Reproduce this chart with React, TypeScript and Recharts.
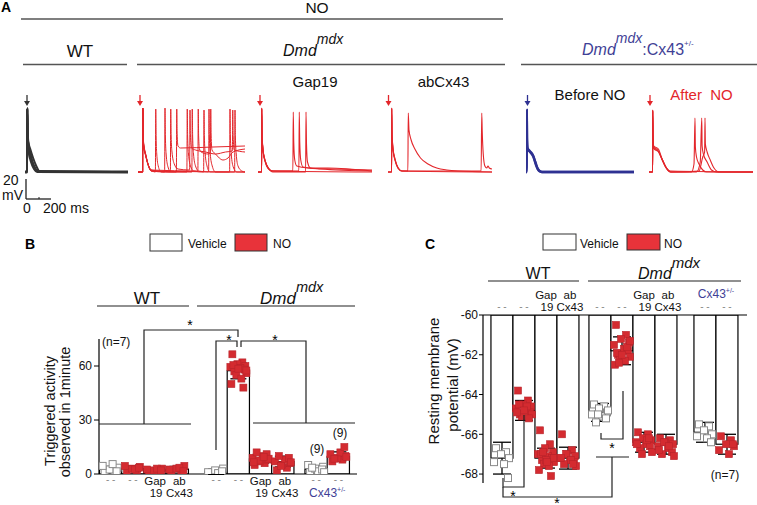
import React from 'react';
import { ComposedChart, LineChart, Line, Bar, Scatter, XAxis, YAxis, ErrorBar } from 'recharts';

const FONT = '"Liberation Sans", Arial, Helvetica, sans-serif';
const RED = '#e3262b';
const SQ_RED = '#d42b30';
const BLUE = '#2e3192';
const BLUE_TXT = '#3f3f96';
const GRAY = '#555';

// ---------------- Panel A: membrane potential traces (t in ms, v in mV) ----------------
type P = [number, number];
const WT_TRACES: P[][] = [
  [[0, -70], [17, -70], [18, -6], [21, -30], [26, -42], [40, -50], [60, -60], [85, -67], [110, -70], [824, -70]],
  [[0, -70], [17, -70], [18, -6], [21, -32], [28, -44], [45, -54], [70, -64], [95, -69], [824, -70]],
  [[0, -69.5], [17, -69.5], [18, -7], [21, -34], [30, -47], [50, -58], [75, -66], [100, -69.5], [824, -69.5]],
  [[0, -70], [17, -70], [18, -7], [21, -28], [27, -40], [42, -47], [65, -56], [90, -64], [115, -69], [824, -70]],
  [[0, -70.5], [17, -70.5], [18, -8], [21, -36], [29, -49], [48, -60], [72, -67], [98, -70], [824, -70.5]],
];
const MDX_TRACES: P[][] = [
  [[0, -70], [37, -70], [38, -6], [41, -32], [46, -44], [60, -52], [80, -62], [105, -68], [139, -70], [142, -7], [145, -35], [150, -52], [162, -64], [185, -70], [307, -70], [310, -7], [313, -32], [320, -44], [340, -46], [600, -45], [856, -44]],
  [[0, -70], [37, -70], [38, -7], [41, -34], [47, -46], [62, -54], [82, -63], [108, -69], [213, -70], [216, -6], [219, -34], [225, -52], [240, -65], [262, -70], [391, -70], [394, -7], [397, -34], [404, -52], [420, -64], [445, -69], [525, -70], [528, -8], [531, -35], [538, -52], [552, -64], [575, -70], [733, -70], [736, -7], [739, -34], [746, -52], [762, -65], [790, -70], [856, -70]],
  [[0, -70], [37, -70], [38, -6], [41, -30], [46, -42], [58, -50], [78, -61], [104, -68], [259, -70], [262, -7], [265, -34], [272, -50], [290, -62], [320, -67], [413, -68], [416, -8], [419, -32], [428, -46], [460, -48], [540, -50], [620, -52], [700, -50], [755, -49], [758, -8], [761, -34], [770, -48], [856, -50]],
  [[0, -70], [37, -70], [38, -6], [41, -33], [47, -45], [61, -53], [82, -63], [106, -69], [431, -70], [434, -7], [437, -34], [444, -52], [460, -64], [485, -69], [565, -70], [568, -7], [571, -34], [578, -52], [594, -64], [620, -70], [773, -70], [776, -8], [779, -35], [786, -52], [800, -64], [830, -69], [856, -70]],
  [[0, -70], [37, -70], [38, -7], [41, -31], [46, -43], [59, -51], [79, -62], [104, -68], [479, -69], [482, -7], [485, -34], [492, -47], [505, -50], [560, -52], [579, -51], [582, -7], [585, -33], [592, -48], [620, -52], [680, -58], [720, -56], [760, -50], [856, -47]],
  [[0, -70], [37, -70], [38, -6], [41, -33], [46, -45], [60, -53], [80, -63], [106, -69], [856, -70]],
];
const GAP19_TRACES: P[][] = [
  [[0, -70], [29, -70], [30, -6], [33, -35], [40, -48], [55, -58], [80, -66], [110, -69], [912, -70]],
  [[0, -70], [29, -70], [30, -7], [33, -36], [41, -50], [58, -60], [85, -67], [120, -69], [279, -69], [282, -10], [286, -40], [294, -58], [310, -64], [400, -66], [600, -67], [912, -68]],
  [[0, -70], [29, -70], [30, -6], [33, -34], [40, -47], [56, -58], [82, -66], [115, -69], [327, -69], [330, -10], [334, -40], [342, -58], [360, -65], [500, -67], [912, -69]],
  [[0, -70], [29, -70], [30, -7], [33, -36], [42, -50], [60, -60], [88, -67], [118, -70], [381, -70], [384, -10], [388, -42], [396, -60], [420, -66], [560, -66], [912, -69]],
];
const ABCX43_TRACES: P[][] = [
  [[0, -70], [29, -70], [30, -6], [33, -34], [40, -47], [55, -57], [80, -66], [110, -69], [832, -70]],
  [[0, -70], [29, -70], [30, -7], [33, -36], [41, -49], [58, -59], [85, -67], [112, -69], [159, -69], [162, -11], [168, -28], [185, -38], [215, -47], [260, -56], [320, -62], [390, -66], [470, -68], [560, -69], [832, -70]],
  [[0, -70], [29, -70], [30, -6], [33, -33], [40, -46], [56, -57], [82, -66], [112, -69], [745, -69], [750, -11], [754, -30], [762, -52], [775, -64], [790, -66], [800, -64], [810, -66], [832, -67]],
];
const BEFORE_NO_TRACES: P[][] = [
  [[0, -70], [5, -70], [6, -8], [8, -36], [12, -46], [30, -49], [55, -53], [75, -60], [95, -67], [125, -70], [864, -70]],
  [[0, -70], [5, -70], [6, -9], [8, -38], [13, -47], [32, -50], [60, -55], [80, -63], [105, -69], [130, -70], [864, -70]],
];
const AFTER_NO_TRACES: P[][] = [
  [[0, -70], [29, -70], [30, -8], [33, -38], [38, -45], [70, -48], [100, -56], [130, -64], [170, -69], [832, -70]],
  [[0, -70], [29, -70], [30, -9], [33, -36], [38, -44], [75, -47], [105, -57], [135, -65], [175, -70], [340, -70], [360, -62], [368, -16], [371, -45], [380, -55], [400, -62], [430, -68], [460, -70], [832, -70]],
  [[0, -70], [29, -70], [30, -8], [33, -37], [38, -46], [72, -49], [102, -57], [132, -65], [172, -70], [380, -70], [410, -60], [422, -16], [425, -44], [435, -52], [465, -60], [500, -68], [540, -70], [832, -70]],
  [[0, -70], [29, -70], [30, -9], [33, -38], [40, -47], [78, -50], [108, -58], [138, -66], [178, -70], [400, -69], [430, -55], [445, -50], [448, -16], [451, -42], [465, -50], [490, -58], [520, -66], [560, -70], [832, -70]],
];

// ---------------- Panels B & C data ----------------
const GROUP_SIZES = [4, 4, 2];
const TREATMENT = ['Vehicle', 'NO', 'NO', 'NO', 'Vehicle', 'NO', 'NO', 'NO', 'Vehicle', 'NO'];
const X_LABEL_TOP = ['--', '--', 'Gap', 'ab', '--', '--', 'Gap', 'ab', '--', '--'];
const X_LABEL_BOTTOM = ['', '', '19', 'Cx43', '', '', '19', 'Cx43', '', ''];

const B_MEANS = [2.7, 3.0, 2.2, 2.7, 1.3, 57.4, 8.4, 6.9, 2.7, 9.8];
const B_ERR = [1.5, 1.5, 1.0, 1.5, 1.5, 4.5, 2.5, 3.0, 1.5, 2.5];
const B_POINTS: number[][] = [
  [1.0, 1.5, 2.5, 3.5, 4.5, 5.5, 1.5],
  [1.5, 2.0, 3.0, 4.0, 4.5, 2.5, 3.5],
  [1.0, 1.5, 2.0, 3.0, 2.5, 3.0, 2.0],
  [1.5, 2.0, 3.0, 4.5, 2.5, 3.5, 1.5],
  [0.5, 1.0, 2.0, 3.0, 1.0, 0.5, 1.5],
  [66.5, 62, 61, 60, 59.5, 59, 58, 57, 56, 55, 53, 50, 48, 60.5, 58.5, 57.5],
  [5, 6, 7, 8, 9, 10, 11, 12, 8.5, 7.5, 9.5, 6.5],
  [2, 3.5, 5, 6, 7, 8, 9, 10, 6.5, 4.5],
  [1, 2, 3, 4, 5, 1.5, 2.5, 3.5, 1],
  [7, 8, 9, 10, 11, 12, 15, 8.5, 9.5],
];
const B_TICKS = [0, 30, 60];

const C_MEANS = [-67.2, -64.8, -67.2, -67.2, -64.9, -61.8, -66.4, -66.5, -65.9, -66.5];
const C_ERR = [0.8, 0.5, 0.5, 0.55, 0.45, 0.7, 0.5, 0.5, 0.5, 0.5];
const C_POINTS: number[][] = [
  [-66.7, -66.9, -67.0, -67.2, -67.4, -67.5, -68.2],
  [-63.8, -64.3, -64.5, -64.6, -64.7, -64.8, -64.9, -65.0, -65.0, -65.1, -64.6, -64.9, -65.2, -64.5, -64.8],
  [-65.8, -66.5, -66.7, -66.9, -67.0, -67.1, -67.2, -67.3, -67.4, -67.5, -67.6, -67.8, -68.1, -67.0, -67.3, -67.2, -66.9, -67.4],
  [-66.0, -66.8, -67.0, -67.1, -67.2, -67.3, -67.4, -67.5, -67.6, -67.0, -67.3, -67.2, -67.5],
  [-64.5, -64.6, -64.7, -64.9, -65.0, -65.1, -65.2, -65.4, -64.8, -65.0],
  [-60.5, -61.0, -61.2, -61.4, -61.5, -61.7, -61.8, -62.0, -62.1, -62.2, -62.3, -62.5, -61.6, -61.9, -62.0, -61.3, -62.4],
  [-65.9, -66.0, -66.2, -66.3, -66.4, -66.5, -66.6, -66.7, -66.9, -67.0, -66.3, -66.5, -66.2],
  [-66.2, -66.3, -66.4, -66.5, -66.6, -66.7, -66.9, -67.0, -67.1, -66.4, -66.6, -66.8],
  [-65.5, -65.6, -65.8, -66.0, -66.1, -66.2, -66.4],
  [-66.1, -66.3, -66.5, -66.6, -66.8, -67.0, -66.5],
];
const C_TICKS = [-60, -61, -62, -63, -64, -65, -66, -67, -68];

// ---------------- layout helpers (positions, not data) ----------------
const JITTER = [-6, 4, -1, 7, -8, 2, 6, -4, 8, -2, 3, -7, 5, -5, 0, 8, -3, 1, -8, 4];

function barCenters(starts: number[], w: number): number[] {
  const out: number[] = [];
  starts.forEach((s, g) => {
    for (let i = 0; i < GROUP_SIZES[g]; i++) out.push(s + w * (i + 0.5));
  });
  return out;
}

function buildSeries(centers: number[], means: number[], errs: number[], points: number[][]) {
  const bars = centers.map((x, i) => ({ x, mean: means[i], err: errs[i] }));
  const veh: { x: number; y: number }[] = [];
  const no: { x: number; y: number }[] = [];
  points.forEach((arr, i) => {
    arr.forEach((y, j) => {
      const pt = { x: centers[i] + JITTER[j % JITTER.length], y };
      if (TREATMENT[i] === 'Vehicle') veh.push(pt);
      else no.push(pt);
    });
  });
  return { bars, veh, no };
}

const VehSquare = (p: any) => (
  <rect x={p.cx - 3.5} y={p.cy - 3.5} width={7} height={7} fill="#fff" stroke="#8a8a8a" strokeWidth={1} />
);
const NoSquare = (p: any) => (
  <rect x={p.cx - 3.5} y={p.cy - 3.5} width={7} height={7} fill={SQ_RED} stroke="#b8232a" strokeWidth={0.6} />
);
const Nothing = () => <g />;

function makeBarShape(w: number) {
  return (p: any) => {
    const cx = p.x + (p.width || 0) / 2;
    const y = Math.min(p.y, p.y + p.height);
    const h = Math.abs(p.height);
    return <rect x={cx - w / 2} y={y} width={w} height={h} fill="#fff" stroke="#000" strokeWidth={1.2} />;
  };
}

function Cx43Label({ x, y }: { x: number; y: number }) {
  return (
    <text x={x} y={y} textAnchor="middle" fontSize={12} fill={BLUE_TXT} fontFamily={FONT}>
      Cx43<tspan dy={-5} fontSize={7}>+/-</tspan>
    </text>
  );
}

function makeTick(bottom: boolean, barW: number) {
  return (props: any) => {
    const { x, y, index } = props;
    const top = X_LABEL_TOP[index];
    const bot = X_LABEL_BOTTOM[index];
    const shift = top === 'ab' ? 2 : 0;
    const y1 = bottom ? y + 11 : y - 16;
    const y2 = bottom ? y + 23 : y - 4;
    const dashY = bottom ? y + 9 : y - 5;
    return (
      <g fontFamily={FONT}>
        {top === '--' ? (
          <text x={x} y={dashY} textAnchor="middle" fontSize={10} fill="#888">- -</text>
        ) : (
          <text x={x + shift} y={y1} textAnchor="middle" fontSize={11.5} fill="#111">{top}</text>
        )}
        {bot ? (
          <text x={x + shift + (bot === '19' ? 1 : 0)} y={y2} textAnchor="middle" fontSize={11.5} fill="#111">{bot}</text>
        ) : null}
        {index === 8 ? (
          bottom ? <Cx43Label x={x + barW / 2} y={y + 23} /> : <Cx43Label x={x + barW / 2} y={y - 17} />
        ) : null}
      </g>
    );
  };
}

// B layout
const B_BAR_W = 22.25;
const B_CENTERS = barCenters([0.5, 106, 206], B_BAR_W);
const B_SERIES = buildSeries(B_CENTERS, B_MEANS, B_ERR, B_POINTS);
// C layout
const C_BAR_W = 22;
const C_CENTERS = barCenters([8, 106, 211], C_BAR_W);
const C_SERIES = buildSeries(C_CENTERS, C_MEANS, C_ERR, C_POINTS);

function TraceChart({ left, width, color, traces, sw }: { left: number; width: number; color: string; traces: P[][]; sw: number }) {
  return (
    <div style={{ position: 'absolute', left, top: 100, width, height: 80 }}>
      <LineChart width={width} height={80} margin={{ top: 0, right: 0, bottom: 0, left: 0 }}>
        <XAxis type="number" dataKey="t" domain={[0, width * 8]} hide allowDataOverflow />
        <YAxis type="number" domain={[-78, 2]} hide allowDataOverflow />
        {traces.map((tr, i) => (
          <Line
            key={i}
            data={tr.map(([t, v]) => ({ t, v }))}
            dataKey="v"
            type="monotoneX"
            stroke={color}
            strokeWidth={sw}
            dot={false}
            isAnimationActive={false}
          />
        ))}
      </LineChart>
    </div>
  );
}

function Arrow({ x, color }: { x: number; color: string }) {
  return (
    <g>
      <line x1={x} y1={95} x2={x} y2={102} stroke={color} strokeWidth={1.3} />
      <path d={`M${x - 3} ${101} L${x + 3} ${101} L${x} ${106} Z`} fill={color} />
    </g>
  );
}

export default function App() {
  const axisStyle = { fontFamily: FONT, fontSize: 12, fill: '#111' };
  return (
    <div style={{ position: 'absolute', left: 0, top: 0, width: 757, height: 505, background: '#fff', overflow: 'hidden', fontFamily: FONT }}>
      {/* Panel A traces */}
      <TraceChart left={25} width={103} color="#333" traces={WT_TRACES} sw={2} />
      <TraceChart left={138} width={107} color={RED} traces={MDX_TRACES} sw={1} />
      <TraceChart left={258} width={114} color={RED} traces={GAP19_TRACES} sw={1.1} />
      <TraceChart left={388} width={104} color={RED} traces={ABCX43_TRACES} sw={1.1} />
      <TraceChart left={526} width={108} color={BLUE} traces={BEFORE_NO_TRACES} sw={2.4} />
      <TraceChart left={649} width={104} color={RED} traces={AFTER_NO_TRACES} sw={1.1} />

      {/* Panel B */}
      <div style={{ position: 'absolute', left: 0, top: 330, width: 370, height: 175 }}>
        <ComposedChart width={370} height={175} data={B_SERIES.bars} margin={{ top: 9, right: 13, bottom: 1, left: 64 }}>
          <XAxis
            type="number"
            dataKey="x"
            domain={[0, 258]}
            ticks={B_CENTERS}
            interval={0}
            height={30}
            tickSize={0}
            tickMargin={0}
            tickLine={false}
            axisLine={{ stroke: '#000', strokeWidth: 1.2 }}
            tick={makeTick(true, B_BAR_W)}
            allowDataOverflow
          />
          <YAxis
            type="number"
            domain={[0, 75]}
            ticks={B_TICKS}
            width={35}
            tickSize={5}
            tickMargin={2}
            axisLine={{ stroke: '#000', strokeWidth: 1.2 }}
            tickLine={{ stroke: '#000' }}
            tick={axisStyle}
            allowDataOverflow
          />
          <Bar dataKey="mean" barSize={22} shape={makeBarShape(B_BAR_W)} isAnimationActive={false} />
          <Scatter data={B_SERIES.veh} dataKey="y" shape={VehSquare} isAnimationActive={false} />
          <Scatter data={B_SERIES.no} dataKey="y" shape={NoSquare} isAnimationActive={false} />
          <Scatter data={B_SERIES.bars.map((b) => ({ x: b.x, y: b.mean, err: b.err }))} dataKey="y" shape={Nothing} isAnimationActive={false}>
            <ErrorBar dataKey="err" direction="y" width={8} stroke="#000" strokeWidth={1.3} />
          </Scatter>
        </ComposedChart>
      </div>

      {/* Panel C */}
      <div style={{ position: 'absolute', left: 380, top: 280, width: 377, height: 225 }}>
        <ComposedChart width={377} height={225} data={C_SERIES.bars} margin={{ top: 5, right: 10, bottom: 22, left: 63 }}>
          <XAxis
            type="number"
            dataKey="x"
            orientation="top"
            domain={[0, 264]}
            ticks={C_CENTERS}
            interval={0}
            height={30}
            tickSize={0}
            tickMargin={0}
            tickLine={false}
            axisLine={{ stroke: '#000', strokeWidth: 1.2 }}
            tick={makeTick(false, C_BAR_W)}
            allowDataOverflow
          />
          <YAxis
            type="number"
            domain={[-68.45, -60]}
            ticks={C_TICKS}
            width={40}
            tickSize={4}
            tickMargin={1}
            axisLine={{ stroke: '#000', strokeWidth: 1.2 }}
            tickLine={{ stroke: '#000' }}
            tick={axisStyle}
            allowDataOverflow
          />
          <Bar dataKey="mean" barSize={22} shape={makeBarShape(C_BAR_W)} isAnimationActive={false} />
          <Scatter data={C_SERIES.veh} dataKey="y" shape={VehSquare} isAnimationActive={false} />
          <Scatter data={C_SERIES.no} dataKey="y" shape={NoSquare} isAnimationActive={false} />
          <Scatter data={C_SERIES.bars.map((b) => ({ x: b.x, y: b.mean, err: b.err }))} dataKey="y" shape={Nothing} isAnimationActive={false}>
            <ErrorBar dataKey="err" direction="y" width={9} stroke="#000" strokeWidth={1.3} />
          </Scatter>
        </ComposedChart>
      </div>

      {/* Annotations */}
      <svg width={757} height={505} style={{ position: 'absolute', left: 0, top: 0, pointerEvents: 'none' }} fontFamily={FONT}>
        {/* Panel A headers */}
        <text x={1} y={12} fontSize={14} fontWeight="bold">A</text>
        <text x={317} y={12.5} fontSize={15.5} textAnchor="middle" fill="#111">NO</text>
        <line x1={21} y1={19} x2={503} y2={19} stroke={GRAY} strokeWidth={1.3} />
        <text x={80} y={57} fontSize={17} textAnchor="middle" fill="#111">WT</text>
        <line x1={23} y1={64.5} x2={127} y2={64.5} stroke={GRAY} strokeWidth={1.3} />
        <text x={283} y={56} fontSize={16} fontStyle="italic" fill="#111">Dmd<tspan dy={-12} fontSize={14}>mdx</tspan></text>
        <line x1={137} y1={64.5} x2={505} y2={64.5} stroke={GRAY} strokeWidth={1.3} />
        <text x={582} y={55} fontSize={16} fill={BLUE_TXT}>
          <tspan fontStyle="italic">Dmd</tspan>
          <tspan dy={-12} fontSize={14} fontStyle="italic">mdx</tspan>
          <tspan dy={12}>:Cx43</tspan>
          <tspan dy={-9} fontSize={8}>+/-</tspan>
        </text>
        <line x1={521} y1={64.5} x2={757} y2={64.5} stroke={GRAY} strokeWidth={1.3} />
        <text x={315} y={87} fontSize={15} textAnchor="middle" fill="#111">Gap19</text>
        <text x={443.5} y={87} fontSize={15} textAnchor="middle" fill="#111">abCx43</text>
        <text x={590} y={100} fontSize={15} textAnchor="middle" fill="#111">Before NO</text>
        <text x={701.5} y={100} fontSize={15} textAnchor="middle" fill={RED} style={{ whiteSpace: 'pre' }}>After  NO</text>
        <Arrow x={27} color="#333" />
        <Arrow x={140} color={RED} />
        <Arrow x={260} color={RED} />
        <Arrow x={388.5} color={RED} />
        <Arrow x={527.5} color={BLUE} />
        <Arrow x={650} color={RED} />
        {/* scale bar */}
        <line x1={26} y1={179} x2={26} y2={199} stroke="#222" strokeWidth={1.3} />
        <line x1={26} y1={199} x2={51} y2={199} stroke="#222" strokeWidth={1.3} />
        <line x1={39} y1={197} x2={39} y2={199} stroke="#222" strokeWidth={1} />
        <text x={3} y={185} fontSize={14} fill="#111">20</text>
        <text x={2} y={200} fontSize={14} fill="#111">mV</text>
        <text x={27} y={213} fontSize={14} textAnchor="middle" fill="#111">0</text>
        <text x={43} y={213} fontSize={14} fill="#111">200 ms</text>

        {/* Panel B headers */}
        <text x={25} y={249} fontSize={14} fontWeight="bold">B</text>
        <rect x={150} y={234} width={32} height={17} fill="#fff" stroke="#333" strokeWidth={1} />
        <text x={188} y={248} fontSize={12} fill="#111">Vehicle</text>
        <rect x={235} y={234} width={32} height={17} fill="#e8333a" stroke="#333" strokeWidth={1} />
        <text x={273} y={248} fontSize={12} fill="#111">NO</text>
        <text x={147} y={304} fontSize={17} textAnchor="middle" fill="#111">WT</text>
        <line x1={97} y1={306} x2={189} y2={306} stroke="#222" strokeWidth={1.2} />
        <text x={260} y={304} fontSize={17} fontStyle="italic" fill="#111">Dmd<tspan dy={-12} fontSize={14.5}>mdx</tspan></text>
        <line x1={197} y1={306} x2={355} y2={306} stroke="#222" strokeWidth={1.2} />
        <text x={102} y={346} fontSize={12} fill="#111">(n=7)</text>
        <text x={317} y={453} fontSize={12} textAnchor="middle" fill="#111">(9)</text>
        <text x={340} y={437} fontSize={12} textAnchor="middle" fill="#111">(9)</text>
        <text transform="rotate(-90 50 411)" x={50} y={411} fontSize={14.5} textAnchor="middle" dominantBaseline="central" fill="#111">Triggered activity</text>
        <text transform="rotate(-90 65 412)" x={65} y={412} fontSize={14.5} textAnchor="middle" dominantBaseline="central" fill="#111">observed in 1minute</text>
        {/* B brackets */}
        <path d="M99 424 H191 M144 424 V330 H238 V337" fill="none" stroke="#222" strokeWidth={1.2} />
        <path d="M216 450 V341 H237 V347" fill="none" stroke="#222" strokeWidth={1.2} />
        <path d="M241 347 V341 H306 V423 M253 423 H355" fill="none" stroke="#222" strokeWidth={1.2} />
        <text x={190} y={330} fontSize={14} textAnchor="middle">*</text>
        <text x={229} y={345} fontSize={14} textAnchor="middle">*</text>
        <text x={275} y={345} fontSize={14} textAnchor="middle">*</text>

        {/* Panel C headers */}
        <text x={425} y={249} fontSize={14} fontWeight="bold">C</text>
        <rect x={543} y={234} width={33} height={16} fill="#fff" stroke="#333" strokeWidth={1} />
        <text x={580} y={248} fontSize={12} fill="#111">Vehicle</text>
        <rect x={627} y={234} width={33} height={16} fill="#e8333a" stroke="#333" strokeWidth={1} />
        <text x={664} y={248} fontSize={12} fill="#111">NO</text>
        <text x={538} y={278.5} fontSize={16} textAnchor="middle" fill="#111">WT</text>
        <line x1={488} y1={281} x2={579} y2={281} stroke="#222" strokeWidth={1.2} />
        <text x={638} y={278.5} fontSize={16} fontStyle="italic" fill="#111">Dmd<tspan dy={-11} fontSize={15}>mdx</tspan></text>
        <line x1={588} y1={281} x2={741} y2={281} stroke="#222" strokeWidth={1.2} />
        <text x={725} y={479} fontSize={12} textAnchor="middle" fill="#111">(n=7)</text>
        <text transform="rotate(-90 433 381)" x={433} y={381} fontSize={15} textAnchor="middle" dominantBaseline="central" fill="#111">Resting membrane</text>
        <text transform="rotate(-90 452 385)" x={452} y={385} fontSize={15} textAnchor="middle" dominantBaseline="central" fill="#111">potential (mV)</text>
        {/* C brackets */}
        <path d="M503 478 V487 H524 V415" fill="none" stroke="#222" strokeWidth={1.2} />
        <path d="M503 487 V497 H612 V457 M596 457 H629" fill="none" stroke="#222" strokeWidth={1.2} />
        <path d="M601 433 V439 H623 V391" fill="none" stroke="#222" strokeWidth={1.2} />
        <text x={513} y={501} fontSize={14} textAnchor="middle">*</text>
        <text x={557} y={508} fontSize={14} textAnchor="middle">*</text>
        <text x={612} y={453} fontSize={14} textAnchor="middle">*</text>
      </svg>
    </div>
  );
}
